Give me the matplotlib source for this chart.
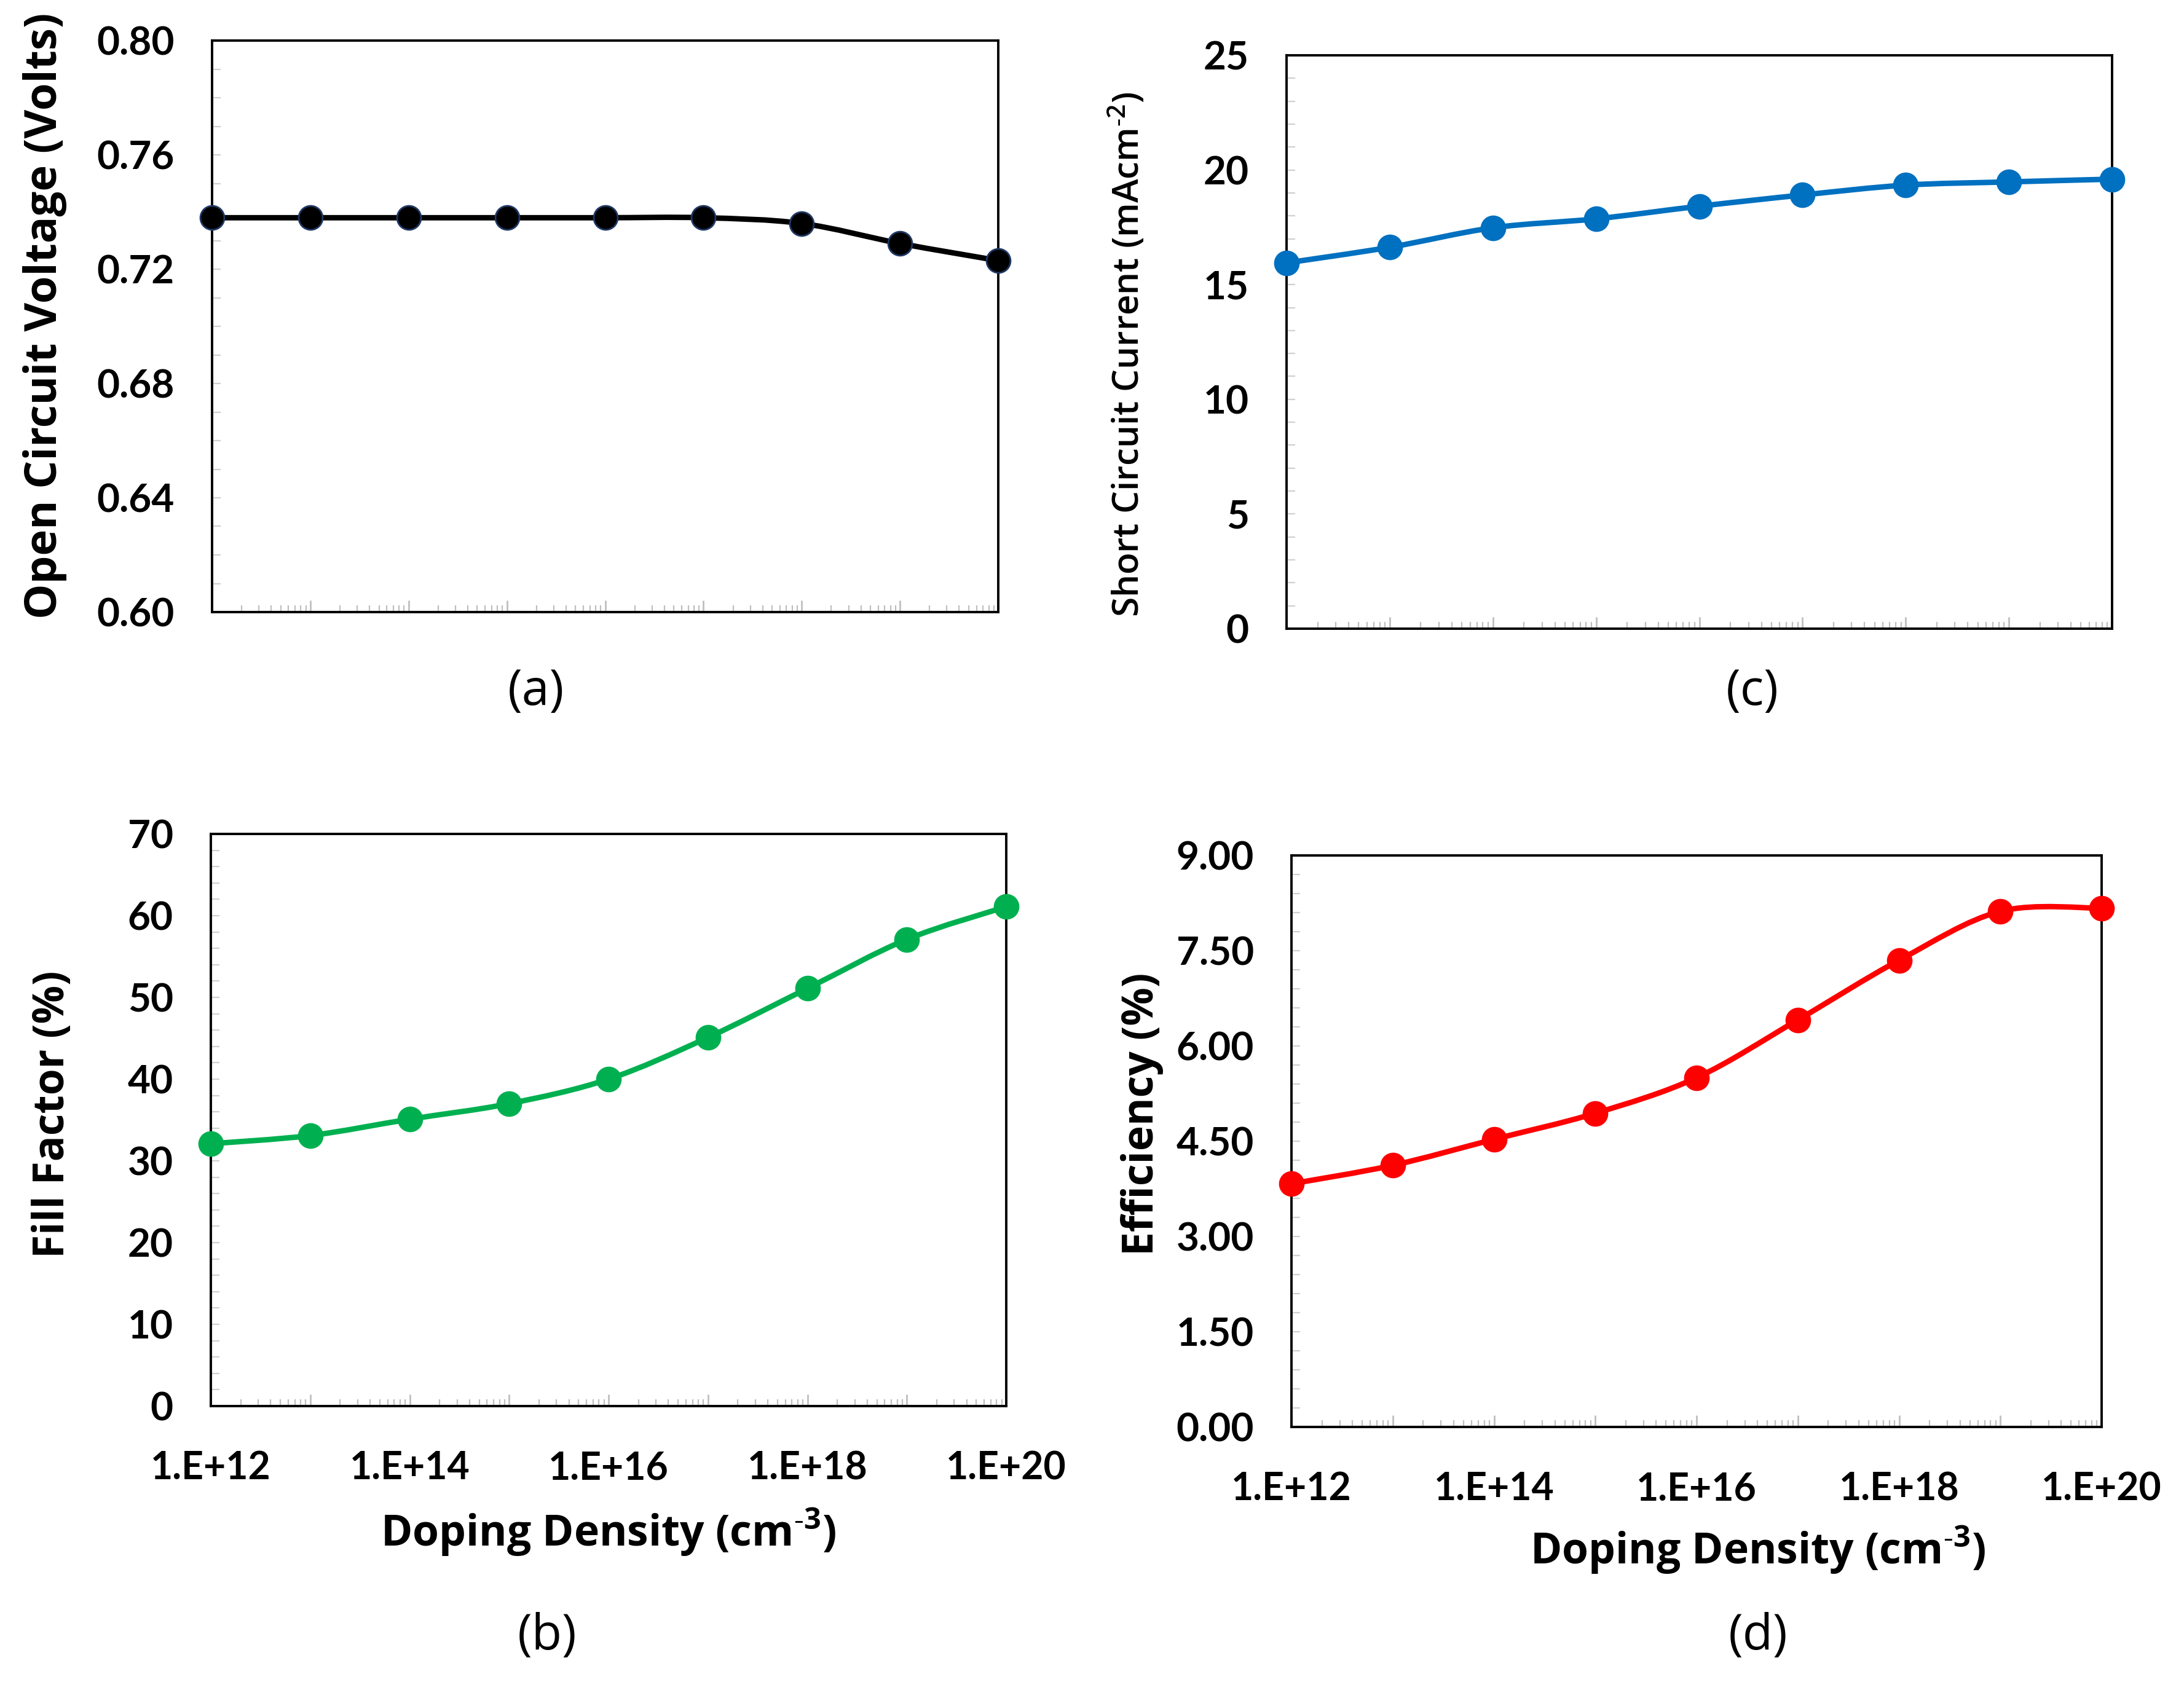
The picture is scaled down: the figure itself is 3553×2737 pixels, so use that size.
import numpy as np
import matplotlib
matplotlib.use("Agg")
import matplotlib.pyplot as plt
from matplotlib.path import Path
from matplotlib.patches import PathPatch
from matplotlib.ticker import LogLocator, MultipleLocator, FixedLocator, NullFormatter, FixedFormatter

# Doping density sweep (cm^-3)
doping = [1e12, 1e13, 1e14, 1e15, 1e16, 1e17, 1e18, 1e19, 1e20]

# Device parameters
voc = [0.738, 0.738, 0.738, 0.738, 0.738, 0.738, 0.736, 0.729, 0.723]
jsc = [15.95, 16.63, 17.48, 17.87, 18.42, 18.91, 19.34, 19.48, 19.60]
ff = [32.1, 33.1, 35.1, 37.0, 40.0, 45.1, 51.1, 57.1, 61.1]
eff = [3.83, 4.12, 4.53, 4.94, 5.50, 6.41, 7.35, 8.12, 8.17]

x_tick_labels = ['1.E+12', '', '1.E+14', '', '1.E+16', '', '1.E+18', '', '1.E+20']

TICK_FONT = 'Lato'
LABEL_FONT = 'Open Sans'
W, H = 3553, 2737
DPI = 200

plt.rcParams['mathtext.fontset'] = 'custom'
plt.rcParams['mathtext.rm'] = 'Open Sans'
plt.rcParams['mathtext.default'] = 'regular'


def smooth_line(ax, xs, ys, color, lw):
    """Excel-like smoothed line: cubic Bezier segments in log-x space."""
    lx = np.log10(xs)
    ly = np.asarray(ys, dtype=float)
    n = len(lx)
    verts = [(xs[0], ly[0])]
    codes = [Path.MOVETO]
    for i in range(n - 1):
        p0 = max(i - 1, 0)
        p3 = min(i + 2, n - 1)
        c1x = lx[i] + (lx[i + 1] - lx[p0]) / 6.0
        c1y = ly[i] + (ly[i + 1] - ly[p0]) / 6.0
        c2x = lx[i + 1] - (lx[p3] - lx[i]) / 6.0
        c2y = ly[i + 1] - (ly[p3] - ly[i]) / 6.0
        verts += [(10 ** c1x, c1y), (10 ** c2x, c2y), (xs[i + 1], ly[i + 1])]
        codes += [Path.CURVE4, Path.CURVE4, Path.CURVE4]
    patch = PathPatch(Path(verts, codes), facecolor='none', edgecolor=color,
                      lw=lw, capstyle='round', joinstyle='round', clip_on=False, zorder=3)
    ax.add_patch(patch)


def make_panel(rect, ys, color, edge, ymin, ymax, ystep, yminor, yfmt, show_x):
    l, t, r, b = rect
    ax = fig.add_axes([l / W, 1 - b / H, (r - l) / W, (b - t) / H])
    ax.set_xscale('log')
    ax.set_xlim(1e12, 1e20)
    ax.set_ylim(ymin, ymax)
    smooth_line(ax, doping, ys, color, 3.2)
    ax.plot(doping, ys, linestyle='none', marker='o', ms=14, color=color,
            mec=edge, mew=1.0, clip_on=False, zorder=4)

    for s in ax.spines.values():
        s.set_linewidth(1.4)
        s.set_color('black')

    ax.xaxis.set_major_locator(FixedLocator(doping))
    ax.xaxis.set_minor_locator(LogLocator(base=10, subs=np.arange(2, 10), numticks=30))
    ax.xaxis.set_minor_formatter(NullFormatter())
    if show_x:
        ax.xaxis.set_major_formatter(FixedFormatter(x_tick_labels))
    else:
        ax.xaxis.set_major_formatter(NullFormatter())
    ax.yaxis.set_major_locator(MultipleLocator(ystep))
    ax.yaxis.set_minor_locator(MultipleLocator(yminor))
    ax.yaxis.set_major_formatter(plt.FuncFormatter(lambda v, p: yfmt.format(v)))

    ax.tick_params(axis='x', which='major', direction='in', length=7, width=1.0,
                   color='#BFBFBF', pad=26, labelsize=22.5)
    ax.tick_params(axis='x', which='minor', direction='in', length=4, width=0.8,
                   color='#BFBFBF')
    ax.tick_params(axis='y', which='both', direction='in', length=5, width=0.8,
                   color='#D0D0D0', pad=22, labelsize=23)
    for lab in ax.get_xticklabels() + ax.get_yticklabels():
        lab.set_fontfamily(TICK_FONT)
        lab.set_fontweight('bold')
    return ax


fig = plt.figure(figsize=(W / DPI, H / DPI), dpi=DPI)

make_panel((345, 66, 1624, 996), voc, 'black', '#1F3864', 0.60, 0.80, 0.04, 0.01, '{:.2f}', False)
make_panel((2093, 90, 3436, 1023), jsc, '#0070C0', '#0070C0', 0, 25, 5, 1, '{:.0f}', False)
make_panel((343, 1357, 1637, 2288), ff, '#00B050', '#00B050', 0, 70, 10, 2, '{:.0f}', True)
make_panel((2101, 1392, 3419, 2322), eff, '#FF0000', '#FF0000', 0, 9, 1.5, 0.3, '{:.2f}', True)


def ftext(x, y, s, **kw):
    fig.text(x / W, 1 - y / H, s, ha='center', va='center', family=LABEL_FONT, **kw)


# y axis titles
ftext(73, 514, 'Open Circuit Voltage (Volts)', rotation=90, fontsize=26, fontweight='bold')
ftext(1835, 577, 'Short Circuit Current (mAcm$^{\u20102}$)', rotation=90,
      fontsize=21, fontweight='semibold')
ftext(86, 1813, 'Fill Factor (%)', rotation=90, fontsize=25, fontweight='bold')
ftext(1858, 1813, 'Efficiency (%)', rotation=90, fontsize=25, fontweight='bold')

# x axis titles
ftext(990, 2493, 'Doping Density (cm$^{\u20103}$)', fontsize=25, fontweight='bold')
ftext(2860, 2522, 'Doping Density (cm$^{\u20103}$)', fontsize=25, fontweight='bold')

# panel captions
ftext(872, 1126, '(a)', fontsize=29)
ftext(2851, 1126, '(c)', fontsize=29)
ftext(890, 2663, '(b)', fontsize=29)
ftext(2860, 2663, '(d)', fontsize=29)

fig.savefig('out.png', dpi=DPI)
